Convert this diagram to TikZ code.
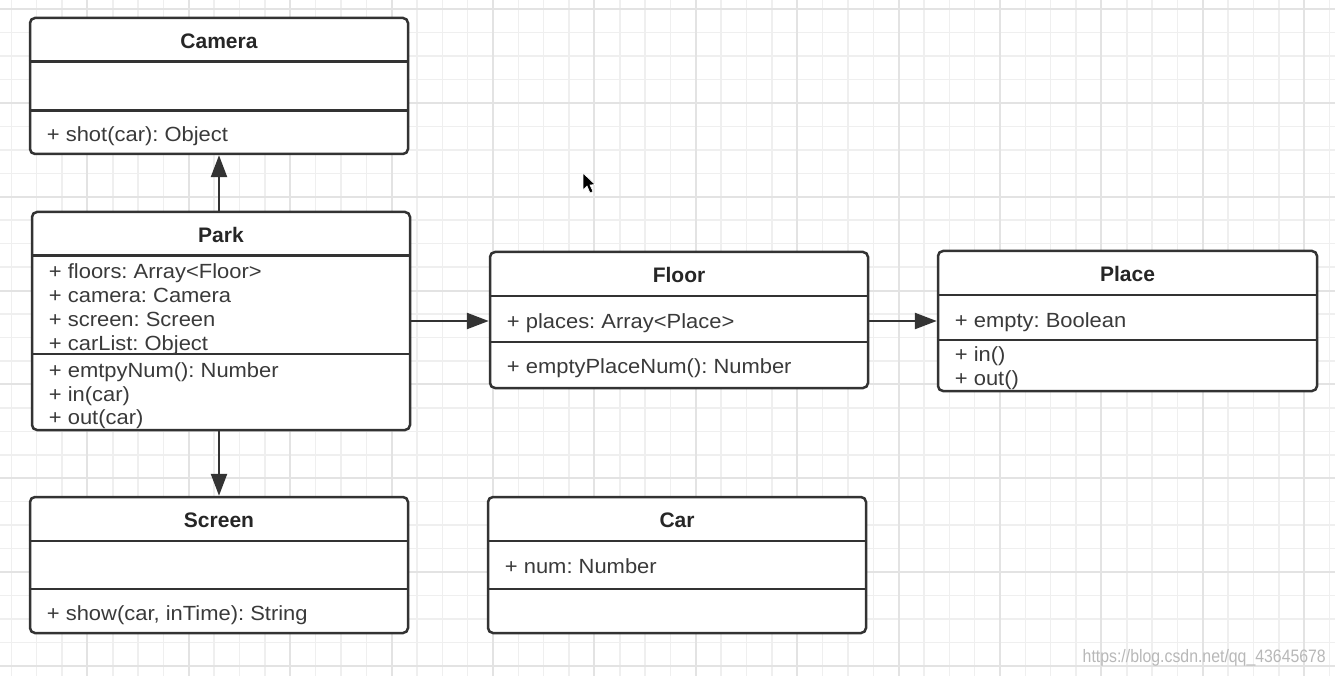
\documentclass[tikz,border=0pt]{standalone}
\usepackage{fontspec}
\usepackage{graphicx}
\setmainfont{Liberation Sans}
\usetikzlibrary{arrows.meta,calc}
\definecolor{ink}{HTML}{333333}
\definecolor{txtc}{HTML}{3A3A3A}
\definecolor{gridminor}{HTML}{EFEFEF}
\definecolor{gridmajor}{HTML}{E3E3E3}
\newcommand{\wx}[1]{\scalebox{1.07}[1]{#1}}
\tikzset{
  cls/.style={draw=ink, line width=2.5pt, rounded corners=5pt, fill=white, inner sep=0pt, minimum width=378pt},
  div/.style={draw=ink, line width=2.5pt},
  arr/.style={draw=ink, line width=2.5pt, -{Triangle[length=22pt,width=16pt]}},
  ttl/.style={font=\fontsize{21}{24}\selectfont\bfseries, text=black!85, inner sep=0pt, anchor=center},
  mem/.style={font=\fontsize{20.5}{24}\selectfont, text=txtc, inner sep=0pt, anchor=west, text height=15pt, text depth=0.6pt},
  gminor/.style={draw=gridminor, line width=1.5pt},
  gmajor/.style={draw=gridmajor, line width=2pt},
}
\frenchspacing
\begin{document}
\frenchspacing
\begin{tikzpicture}[x=1pt,y=-1pt]
\useasboundingbox (0,0) rectangle (1335,676);
\fill[white] (0,0) rectangle (1335,676);
% grid
\foreach \k in {-39,...,13} {
  \pgfmathsetmacro\xx{1000+\k*25.35}
  \draw[gminor] (\xx,0) -- (\xx,676);
}
\foreach \k in {-4,...,24} {
  \pgfmathsetmacro\yy{103+\k*23.45}
  \draw[gminor] (0,\yy) -- (1335,\yy);
}
\foreach \k in {-36,-32,...,12} {
  \pgfmathsetmacro\xx{1000+\k*25.35}
  \draw[gmajor] (\xx,0) -- (\xx,676);
}
\foreach \k in {-4,0,...,24} {
  \pgfmathsetmacro\yy{103+\k*23.45}
  \draw[gmajor] (0,\yy) -- (1335,\yy);
}

% classes
\node[cls, minimum height=136pt] (camera) at (219,86) {};
\node[cls, minimum height=218pt] (park) at (221,321) {};
\node[cls, minimum height=136pt] (floor) at (679,320) {};
\node[cls, minimum height=140pt, minimum width=379pt] (place) at (1127.5,321) {};
\node[cls, minimum height=136pt] (screen) at (219,565) {};
\node[cls, minimum height=136pt] (car) at (677,565) {};

% dividers
\foreach \n/\a/\b in {camera/45/94, park/45/143, floor/45/91, place/45/90, screen/45/93, car/45/93} {
  \draw[div] ($(\n.north west)+(0,\a)$) -- ($(\n.north east)+(0,\a)$);
  \draw[div] ($(\n.north west)+(0,\b)$) -- ($(\n.north east)+(0,\b)$);
}

% titles
\node[ttl] (camera-t) at ($(camera.north)+(0,24.5)$) {Camera};
\node[ttl] (park-t) at ($(park.north)+(0,24.5)$) {Park};
\node[ttl] (floor-t) at ($(floor.north)+(0,24.5)$) {Floor};
\node[ttl] (place-t) at ($(place.north)+(0,24.5)$) {Place};
\node[ttl] (screen-t) at ($(screen.north)+(0,24.5)$) {Screen};
\node[ttl] (car-t) at ($(car.north)+(0,24.5)$) {Car};

% members
\node[mem] (camera-m1) at ($(camera.north west)+(18,118)$) {\wx{+ shot(car): Object}};

\node[mem] (park-a1) at ($(park.north west)+(18,60.5)$) {\wx{+ floors: Array<Floor>}};
\node[mem] (park-a2) at ($(park.north west)+(18,84.5)$) {\wx{+ camera: Camera}};
\node[mem] (park-a3) at ($(park.north west)+(18,108.5)$) {\wx{+ screen: Screen}};
\node[mem] (park-a4) at ($(park.north west)+(18,132.5)$) {\wx{+ carList: Object}};
\node[mem] (park-m1) at ($(park.north west)+(18,159.5)$) {\wx{+ emtpyNum(): Number}};
\node[mem] (park-m2) at ($(park.north west)+(18,183.5)$) {\wx{+ in(car)}};
\node[mem] (park-m3) at ($(park.north west)+(18,206.5)$) {\wx{+ out(car)}};

\node[mem] (floor-a1) at ($(floor.north west)+(18,70.5)$) {\wx{+ places: Array<Place>}};
\node[mem] (floor-m1) at ($(floor.north west)+(18,115.5)$) {\wx{+ emptyPlaceNum(): Number}};

\node[mem] (place-a1) at ($(place.north west)+(18,70.5)$) {\wx{+ empty: Boolean}};
\node[mem] (place-m1) at ($(place.north west)+(18,104.5)$) {\wx{+ in()}};
\node[mem] (place-m2) at ($(place.north west)+(18,128.5)$) {\wx{+ out()}};

\node[mem] (screen-m1) at ($(screen.north west)+(18,118)$) {\wx{+ show(car, inTime): String}};

\node[mem] (car-a1) at ($(car.north west)+(18,70.5)$) {\wx{+ num: Number}};

% connectors
\draw[arr] (park.north -| camera.south) -- (camera.south);
\draw[arr] (park.south -| screen.north) -- (screen.north);
\draw[arr] (park.east) -- (park.east -| floor.west);
\draw[arr] (floor.east |- park.east) -- (park.east -| place.west);

% cursor
\filldraw[fill=black, draw=white, line width=0.6pt] (583,173) -- (583,190) -- (587,186) -- (590,193) -- (593,191.5) -- (590,185) -- (595,184.5) -- cycle;

% watermark
\node[font=\fontsize{18}{20}\selectfont, text=black!28, inner sep=0pt, anchor=east] (wm) at (1326,658) {\scalebox{0.88}[1]{https://blog.csdn.net/qq\_43645678}};
\end{tikzpicture}
\end{document}
